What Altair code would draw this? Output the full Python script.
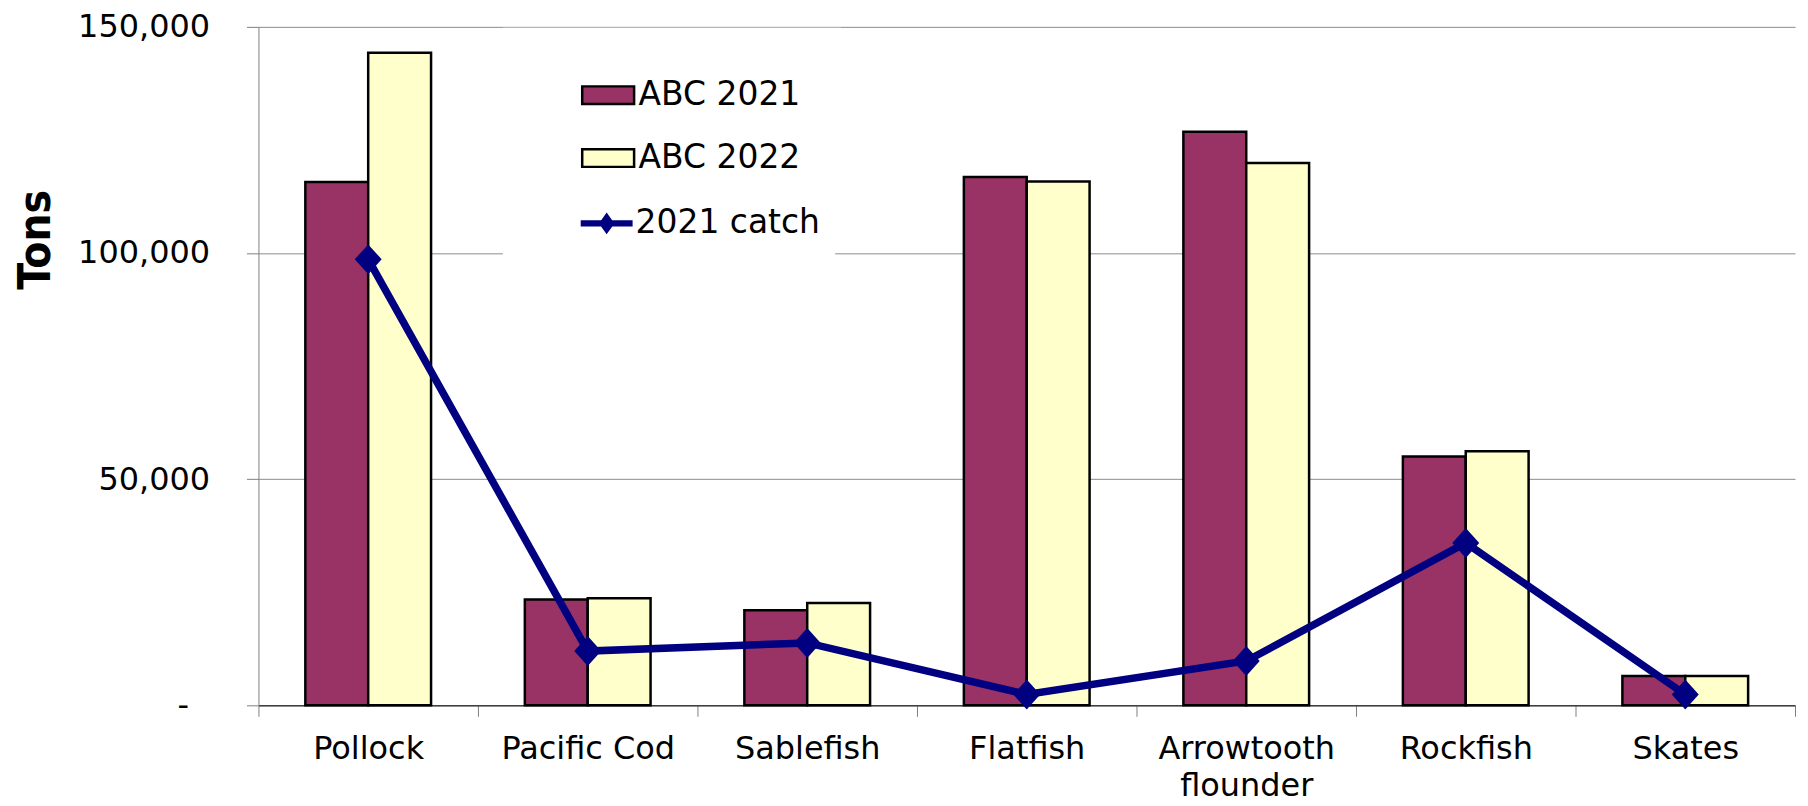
import altair as alt
import pandas as pd

categories = ["Pollock", "Pacific Cod", "Sablefish", "Flatfish",
              "Arrowtooth flounder", "Rockfish", "Skates"]
abc_2021 = [115700, 23400, 21000, 116800, 126800, 55000, 6500]
abc_2022 = [144300, 23700, 22600, 115800, 119900, 56200, 6500]
catch_2021 = [98600, 12000, 13800, 2400, 9800, 35900, 2400]
bar_series = ["ABC 2021", "ABC 2022"]
catch_name = "2021 catch"
y_ticks = [0, 50000, 100000, 150000]

bars_df = pd.DataFrame({
    "species": categories * 2,
    "series": [bar_series[0]] * len(categories) + [bar_series[1]] * len(categories),
    "tons": abc_2021 + abc_2022,
})
catch_df = pd.DataFrame({
    "species": categories,
    "series": [catch_name] * len(categories),
    "tons": catch_2021,
})

FONT = "DejaVu Sans"

x_enc = alt.X(
    "species:N", sort=categories,
    scale=alt.Scale(paddingInner=0, paddingOuter=0),
    axis=alt.Axis(
        title=None, tickBand="extent", labelAngle=0, labelFontSize=32,
        labelPadding=17, tickSize=11, tickColor="#808080", domainColor="#404040",
        domainWidth=1.5, labelColor="black", grid=False, labelLineHeight=37,
        labelExpr="datum.label == 'Arrowtooth flounder' ? ['Arrowtooth', 'flounder'] : datum.label",
    ),
)

y_enc = alt.Y(
    "tons:Q", stack=None,
    scale=alt.Scale(domain=[0, 150000], nice=False),
    axis=alt.Axis(
        values=y_ticks, title="Tons", titleFontSize=44, titleFontWeight="bold",
        titleFont="DejaVu Sans Condensed, Liberation Sans",
        titleColor="black", titleAngle=270, titleX=-209, titleY=213,
        titleBaseline="alphabetic",
        labelFontSize=32, labelColor="black", tickSize=12,
        labelPadding={"condition": {"test": "datum.value == 0", "value": 58}, "value": 37},
        tickColor="#808080", domainColor="#808080", gridColor="#8c8c8c",
        labelExpr="datum.value == 0 ? '-' : format(datum.value, ',')",
    ),
)

bars = alt.Chart(bars_df).mark_bar(stroke="black", strokeWidth=2.5).encode(
    x=x_enc,
    xOffset=alt.XOffset("series:N", sort=bar_series,
                        scale=alt.Scale(paddingInner=0, paddingOuter=0.746)),
    y=y_enc,
    color=alt.Color(
        "series:N",
        scale=alt.Scale(domain=bar_series, range=["#993366", "#FFFFCC"]),
        legend=alt.Legend(
            title=None, orient="none", legendX=245, legendY=1, fillColor="white",
            padding=40, symbolOffset=38, symbolType="M-1,-0.34H1V0.34H-1Z",
            symbolSize=2704, symbolStrokeColor="black", symbolStrokeWidth=2.5,
            labelFontSize=33, labelOffset=3, rowPadding=18, labelColor="black",
            labelLimit=400, symbolOpacity=1,
        ),
    ),
)

line = alt.Chart(catch_df).mark_line(color="#000080", strokeWidth=7.5).encode(
    x=x_enc, y=y_enc,
)

points = alt.Chart(catch_df).mark_point(
    filled=True, shape="M0,-1L0.9,0L0,1L-0.9,0Z", size=900, opacity=1,
).encode(
    x=x_enc, y=y_enc,
    fill=alt.Fill(
        "series:N",
        scale=alt.Scale(domain=[catch_name], range=["#000080"]),
        legend=alt.Legend(
            title=None, orient="none", legendX=245, legendY=156, fillColor="white",
            padding=15, symbolOffset=63,
            symbolType="M-1,-0.12H1V0.12H-1Z M0,-0.42L0.3,0L0,0.42L-0.3,0Z",
            symbolSize=2704, symbolStrokeWidth=0, labelFontSize=33, labelOffset=3,
            labelColor="black", labelLimit=400, symbolOpacity=1,
        ),
    ),
)

chart = alt.layer(bars, line, points).properties(
    width=1540, height=680,
    autosize=alt.AutoSizeParams(type="none"),
    padding={"left": 251, "top": 18, "right": 5, "bottom": 100},
).configure(font=FONT).configure_view(stroke=None)

chart.save("out.html", embed_options={"renderer": "svg", "actions": False})
